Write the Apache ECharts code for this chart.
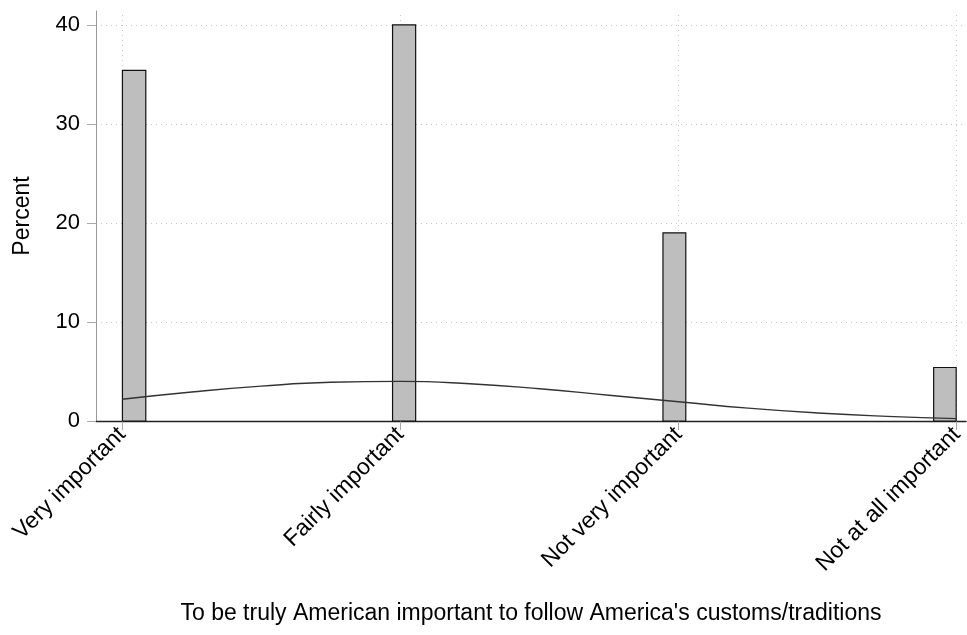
<!DOCTYPE html>
<html>
<head>
<meta charset="utf-8">
<style>
  html, body { margin: 0; padding: 0; background: #fff; }
  #chart { width: 967px; height: 635px; }
</style>
<script src="https://cdn.jsdelivr.net/npm/echarts@6/dist/echarts.min.js"></script>
</head>
<body>
<div id="chart"></div>
<script>
// Response codes and their labels
const categoryCodes = [1, 2, 3, 4];
const categoryLabels = ['Very important', 'Fairly important', 'Not very important', 'Not at all important'];

// Histogram bins: left/right edges (in code units) and percent of respondents
const binLeft = [1.001, 1.972, 2.944, 3.917];
const binRight = [1.085, 2.055, 3.026, 3.998];
const binPercent = [35.4, 40.0, 19.0, 5.4];

// Overlaid normal density (percent scale)
const curveX = [1.0, 1.25, 1.5, 1.75, 2.0, 2.25, 2.5, 2.75, 3.0, 3.25, 3.5, 3.75, 4.0];
const curveY = [2.2, 2.93, 3.52, 3.91, 4.0, 3.76, 3.26, 2.6, 1.95, 1.3, 0.81, 0.47, 0.24];

// Y axis ticks
const yTicks = [0, 10, 20, 30, 40];

const FONT = '"Liberation Sans", Arial, Helvetica, sans-serif';

const chart = echarts.init(document.getElementById('chart'), null, { renderer: 'canvas' });

const histData = binLeft.map((l, i) => [l, binRight[i], binPercent[i]]);
const curveData = curveX.map((x, i) => [x, curveY[i]]);

chart.setOption({
  animation: false,
  backgroundColor: '#ffffff',
  grid: { left: 96, right: 0, top: 11, bottom: 214, containLabel: false },
  xAxis: [
    {
      type: 'value',
      min: 0.906,
      max: 4.033,
      position: 'bottom',
      name: "To be truly American important to follow America's customs/traditions",
      nameLocation: 'middle',
      nameGap: 181,
      nameTextStyle: { fontFamily: FONT, fontSize: 23, color: '#000' },
      axisLine: { show: true, onZero: false, lineStyle: { color: '#333', width: 1 } },
      axisTick: { show: true, length: 9, customValues: categoryCodes, lineStyle: { color: '#aaa' } },
      axisLabel: {
        customValues: categoryCodes,
        rotate: 45,
        margin: 10,
        fontFamily: FONT,
        fontSize: 23,
        color: '#000',
        formatter: v => categoryLabels[categoryCodes.indexOf(Math.round(v))] || ''
      },
      splitLine: { show: false }
    },
    {
      type: 'value',
      min: 0.906,
      max: 4.033,
      position: 'top',
      axisLine: { show: true, lineStyle: { color: '#222', width: 1.3 } },
      axisTick: { show: false },
      axisLabel: { show: false },
      splitLine: { show: false }
    }
  ],
  yAxis: {
    type: 'value',
    min: 0,
    max: 41.4,
    interval: 10,
    name: 'Percent',
    nameLocation: 'middle',
    nameGap: 62,
    nameRotate: 90,
    nameTextStyle: { fontFamily: FONT, fontSize: 23, color: '#000' },
    axisLine: { show: true, lineStyle: { color: '#999', width: 1 } },
    axisTick: { show: true, length: 9, customValues: yTicks, lineStyle: { color: '#aaa' } },
    axisLabel: {
      customValues: yTicks,
      margin: 16,
      fontFamily: FONT,
      fontSize: 22,
      color: '#000'
    },
    splitLine: { show: true, lineStyle: { color: '#c8c8c8', type: [1, 4], width: 1 } }
  },
  series: [
    {
      type: 'custom',
      xAxisIndex: 0,
      data: histData,
      encode: { x: [0, 1], y: 2 },
      renderItem: (params, api) => {
        const topLeft = api.coord([api.value(0), api.value(2)]);
        const bottomRight = api.coord([api.value(1), 0]);
        return {
          type: 'rect',
          shape: {
            x: topLeft[0],
            y: topLeft[1],
            width: bottomRight[0] - topLeft[0],
            height: bottomRight[1] - topLeft[1]
          },
          style: { fill: '#bebebe', stroke: '#111', lineWidth: 1.2 }
        };
      },
      markLine: {
        silent: true,
        symbol: 'none',
        label: { show: false },
        lineStyle: { color: '#c8c8c8', type: [1, 4], width: 1 },
        data: categoryCodes.map(c => ({ xAxis: c })),
        z: 0
      },
      z: 3
    },
    {
      type: 'line',
      xAxisIndex: 0,
      data: curveData,
      smooth: true,
      showSymbol: false,
      lineStyle: { color: '#333', width: 1.4 },
      z: 4
    }
  ]
});
</script>
</body>
</html>
